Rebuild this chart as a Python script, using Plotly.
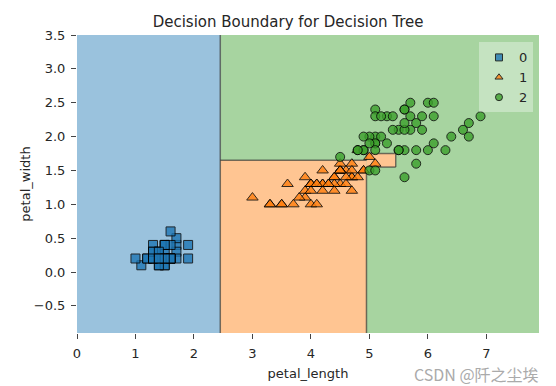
import plotly.graph_objects as go

# Iris petal measurements per class
setosa_len = [1.4,1.4,1.3,1.5,1.4,1.7,1.4,1.5,1.4,1.5,1.5,1.6,1.4,1.1,1.2,1.5,1.3,1.4,1.7,1.5,
              1.7,1.5,1.0,1.7,1.9,1.6,1.6,1.5,1.4,1.6,1.6,1.5,1.5,1.4,1.5,1.2,1.3,1.4,1.3,1.5,
              1.3,1.3,1.3,1.6,1.9,1.4,1.6,1.4,1.5,1.4]
setosa_wid = [0.2,0.2,0.2,0.2,0.2,0.4,0.3,0.2,0.2,0.1,0.2,0.2,0.1,0.1,0.2,0.4,0.4,0.3,0.3,0.3,
              0.2,0.4,0.2,0.5,0.2,0.2,0.4,0.2,0.2,0.2,0.2,0.4,0.1,0.2,0.2,0.2,0.2,0.1,0.2,0.2,
              0.3,0.3,0.2,0.6,0.4,0.3,0.2,0.2,0.2,0.2]
versi_len = [4.7,4.5,4.9,4.0,4.6,4.5,4.7,3.3,4.6,3.9,3.5,4.2,4.0,4.7,3.6,4.4,4.5,4.1,4.5,3.9,
             4.8,4.0,4.9,4.7,4.3,4.4,4.8,5.0,4.5,3.5,3.8,3.7,3.9,5.1,4.5,4.5,4.7,4.4,4.1,4.0,
             4.4,4.6,4.0,3.3,4.2,4.2,4.2,4.3,3.0,4.1]
versi_wid = [1.4,1.5,1.5,1.3,1.5,1.3,1.6,1.0,1.3,1.4,1.0,1.5,1.0,1.4,1.3,1.4,1.5,1.0,1.5,1.1,
             1.8,1.3,1.5,1.2,1.3,1.4,1.4,1.7,1.5,1.0,1.1,1.0,1.2,1.6,1.5,1.6,1.5,1.3,1.3,1.3,
             1.2,1.4,1.2,1.0,1.3,1.2,1.3,1.3,1.1,1.3]
virg_len = [6.0,5.1,5.9,5.6,5.8,6.6,4.5,6.3,5.8,6.1,5.1,5.3,5.5,5.0,5.1,5.3,5.5,6.7,6.9,5.0,
            5.7,4.9,6.7,4.9,5.7,6.0,4.8,4.9,5.6,5.8,6.1,6.4,5.6,5.1,5.6,6.1,5.6,5.5,4.8,5.4,
            5.6,5.1,5.1,5.9,5.7,5.2,5.0,5.2,5.4,5.1]
virg_wid = [2.5,1.9,2.1,1.8,2.2,2.1,1.7,1.8,1.8,2.5,2.0,1.9,2.1,2.0,2.4,2.3,1.8,2.2,2.3,1.5,
            2.3,2.0,2.0,1.8,2.1,1.8,1.8,1.8,2.1,1.6,1.9,2.0,2.2,1.5,1.4,2.3,2.4,1.8,1.8,2.1,
            2.4,2.3,1.9,2.3,2.5,2.3,1.9,2.0,2.3,1.8]

class_labels = ["0", "1", "2"]

# Decision tree split thresholds
t_len1 = 2.45   # petal_length split (setosa)
t_wid1 = 1.75   # petal_width split
t_len2 = 4.95   # petal_length split
t_wid2 = 1.65   # petal_width split (left branch)
t_wid3 = 1.55   # petal_width split (right branch)
t_len3 = 5.45   # petal_length split

all_len = setosa_len + versi_len + virg_len
all_wid = setosa_wid + versi_wid + virg_wid
x_min, x_max = min(all_len) - 1, max(all_len) + 1
y_min, y_max = min(all_wid) - 1, max(all_wid) + 1

base_colors = ["#1f77b4", "#ff7f0e", "#3ca02c"]
# region fills: class colours at 45% opacity over white (pre-blended)
fill_colors = ["rgb(154,194,221)", "rgb(255,197,146)", "rgb(167,212,160)"]


def rect(x0, x1, y0, y1):
    return [x0, x1, x1, x0, x0], [y0, y0, y1, y1, y0]


fig = go.Figure()

regions = [
    (2, rect(t_len1, x_max, y_min, y_max)),
    (0, rect(x_min, t_len1, y_min, y_max)),
    (1, rect(t_len1, t_len2, y_min, t_wid2)),
    (1, rect(t_len2, t_len3, t_wid3, t_wid1)),
]
for cls, (xs, ys) in regions:
    fig.add_trace(go.Scatter(x=xs, y=ys, fill="toself", fillcolor=fill_colors[cls],
                             mode="lines", line=dict(width=0), hoverinfo="skip",
                             showlegend=False))

# boundary lines
segments = [
    ((t_len1, y_min), (t_len1, y_max)),
    ((t_len1, t_wid2), (t_len2, t_wid2)),
    ((t_len2, y_min), (t_len2, t_wid3)),
    ((t_len2, t_wid3), (t_len3, t_wid3)),
    ((t_len3, t_wid3), (t_len3, t_wid1)),
    ((t_len3, t_wid1), (t_len2, t_wid1)),
    ((t_len2, t_wid1), (t_len2, t_wid2)),
]
bx, by = [], []
for (a, b) in segments:
    bx += [a[0], b[0], None]
    by += [a[1], b[1], None]
fig.add_trace(go.Scatter(x=bx, y=by, mode="lines",
                         line=dict(color="rgba(50,50,50,0.65)", width=1.5),
                         hoverinfo="skip", showlegend=False))

symbols = ["square", "triangle-up", "circle"]
sizes = [9, 10, 9]
data = [(setosa_len, setosa_wid), (versi_len, versi_wid), (virg_len, virg_wid)]
for i, (xs, ys) in enumerate(data):
    fig.add_trace(go.Scatter(
        x=xs, y=ys, mode="markers", name=class_labels[i], legendgroup=class_labels[i],
        showlegend=False,
        marker=dict(symbol=symbols[i], size=sizes[i], color=base_colors[i], opacity=0.8,
                    line=dict(color="black", width=1)),
    ))
# legend entries with smaller markers
for i in range(3):
    fig.add_trace(go.Scatter(
        x=[None], y=[None], mode="markers", name=class_labels[i], legendgroup=class_labels[i],
        marker=dict(symbol=symbols[i], size=7, color=base_colors[i], opacity=0.8,
                    line=dict(color="black", width=1)),
    ))

fig.update_layout(
    width=548, height=378,
    margin=dict(l=69, r=17, t=27, b=53, autoexpand=False),
    paper_bgcolor="white", plot_bgcolor="white",
    font=dict(family="DejaVu Sans", size=13, color="#262626"),
    title=dict(text="Decision Boundary for Decision Tree", x=0.457, xref="paper",
               xanchor="center", y=0.963, yanchor="middle",
               font=dict(size=15, color="#262626")),
    legend=dict(x=0.987, y=0.975, xanchor="right", yanchor="top",
                bgcolor="rgba(255,255,255,0.35)", borderwidth=0,
                font=dict(size=13), itemsizing="trace", tracegroupgap=0,
                traceorder="normal"),
    showlegend=True,
)
fig.update_xaxes(range=[x_min, x_max], tickvals=[0, 1, 2, 3, 4, 5, 6, 7],
                 ticks="outside", ticklen=5, tickcolor="#444", showgrid=False,
                 zeroline=False, showline=False, automargin=False,
                 tickfont=dict(size=13), ticklabelstandoff=3,
                 title=dict(text="petal_length", standoff=9, font=dict(size=13)))
fig.update_yaxes(range=[y_min, y_max], tickvals=[-0.5, 0, 0.5, 1, 1.5, 2, 2.5, 3, 3.5],
                 tickformat=".1f", ticks="outside", ticklen=5, tickcolor="#444",
                 showgrid=False, zeroline=False, showline=False, automargin=False,
                 tickfont=dict(size=13), ticklabelstandoff=3,
                 title=dict(text="petal_width", standoff=0, font=dict(size=13)))

fig.add_annotation(text="CSDN @阡之尘埃", xref="paper", yref="paper", x=1.005, y=-0.137,
                   xanchor="right", yanchor="middle", showarrow=False,
                   font=dict(family="Noto Sans CJK SC", size=16, color="#aaaaaa"))

fig.write_html("out.html")
